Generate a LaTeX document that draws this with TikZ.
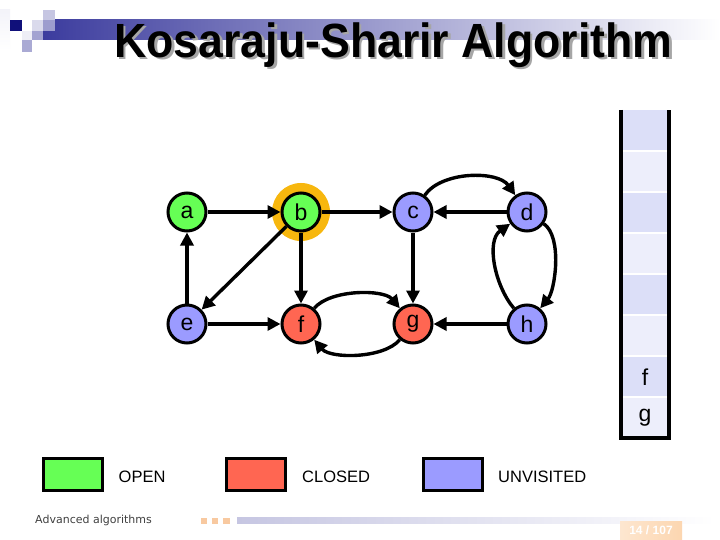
\documentclass[tikz,border=0pt]{standalone}
\usepackage{fontspec}
\setmainfont{Liberation Sans}
\newfontfamily\footfont{DejaVu Sans}
\usetikzlibrary{arrows.meta}
\definecolor{opengreen}{HTML}{66FF55}
\definecolor{closedred}{HTML}{FF6652}
\definecolor{unvblue}{HTML}{9B9BFF}
\definecolor{halo}{HTML}{F7B70E}
\definecolor{cellA}{HTML}{DCDFF8}
\definecolor{cellB}{HTML}{EDEEFB}
\definecolor{navy}{HTML}{10107A}
\definecolor{barblue}{HTML}{3C3C9E}
\definecolor{peach}{HTML}{F8C9A0}
\definecolor{footbar}{HTML}{C6C6E2}
\definecolor{pagebox}{HTML}{FCD6B0}
\begin{document}
\begin{tikzpicture}[x=1pt,y=1pt,
  vtx/.style={circle,draw=black,line width=3pt,minimum size=38pt,inner sep=0pt,font=\fontsize{23}{23}\selectfont},
  open/.style={vtx,fill=opengreen},
  closed/.style={vtx,fill=closedred},
  unv/.style={vtx,fill=unvblue},
  edge/.style={line width=3.4pt,-{Triangle[length=13pt,width=13pt]}},
  legbox/.style={draw=black,line width=3pt,minimum width=59pt,minimum height=32pt,inner sep=0pt},
  legtext/.style={font=\fontsize{16.5}{16.5}\selectfont,anchor=west,inner sep=0pt},
  stacktext/.style={font=\fontsize{23}{23}\selectfont,inner sep=0pt}
]
\useasboundingbox (0,0) rectangle (720,-540);
\fill[white] (0,0) rectangle (720,-540);

% top-left decoration
\shade[top color=white!80!footbar,bottom color=white] (0,-10) rectangle (10,-50);
\shade[left color=barblue,right color=white] (43,-20) rectangle (720,-40);
\fill[navy] (10,-20) rectangle (22,-31);
\fill[white!70!footbar] (22,-31) rectangle (32,-40);
\fill[white!35!footbar] (32,-20) rectangle (43,-31);
\fill[footbar] (43,-10) rectangle (55,-20);
\fill[footbar!70!barblue] (43,-20) rectangle (55,-31);
\fill[footbar!75!barblue] (32,-31) rectangle (43,-40);
\fill[footbar!80!barblue] (22,-40) rectangle (32,-52);

% title with shadow
\node[text=black!35,font=\bfseries\fontsize{48}{48}\selectfont,xscale=0.93] at (396,-47.5) {Kosaraju-Sharir Algorithm};
\node (title) [text=black,font=\bfseries\fontsize{48}{48}\selectfont,xscale=0.93] at (393.5,-45) {Kosaraju-Sharir Algorithm};

% halo
\fill[halo] (301,-212) circle (29);

% vertices
\node (a) [open]   at (187,-212) {a};
\node (b) [open]   at (301,-212) {b};
\node (c) [unv]    at (413,-212) {c};
\node (d) [unv]    at (527,-212) {d};
\node (e) [unv]    at (187,-324) {e};
\node (f) [closed] at (301,-324) {f};
\node (g) [closed] at (413,-324) {g};
\node (h) [unv]    at (527,-324) {h};

% edges
\draw[edge] (a) -- (b);
\draw[edge] (b) -- (c);
\draw[edge] (d) -- (c);
\draw[edge] (c) -- (g);
\draw[edge] (b) -- (f);
\draw[edge] (b) -- (e);
\draw[edge] (e) -- (a);
\draw[edge] (e) -- (f);
\draw[edge] (h) -- (g);
\draw[edge] (c) to[out=55,in=125,looseness=0.85] (d);
\draw[edge] (f) to[out=50,in=130,looseness=0.75] (g);
\draw[edge] (g) to[out=-130,in=-50,looseness=0.75] (f);
\draw[edge] (d) to[out=-35,in=50,looseness=0.7] (h);
\draw[edge] (h) to[out=130,in=-145,looseness=0.9] (d);

% stack
\fill[cellA] (621,-110) rectangle (669,-151);
\fill[cellB] (621,-151) rectangle (669,-192);
\fill[cellA] (621,-192) rectangle (669,-233);
\fill[cellB] (621,-233) rectangle (669,-274);
\fill[cellA] (621,-274) rectangle (669,-315);
\fill[cellB] (621,-315) rectangle (669,-356);
\fill[cellA] (621,-356) rectangle (669,-397);
\fill[cellB] (621,-397) rectangle (669,-438);
\foreach \yy in {151,192,233,274,315,356,397}
  \draw[white,line width=1.5pt] (621,-\yy) -- (669,-\yy);
\draw[black,line width=3.2pt] (621,-110) -- (621,-438) -- (669,-438) -- (669,-110);
\node (sf) [stacktext] at (645,-377) {f};
\node (sg) [stacktext] at (645,-418) {g};

% legend
\node (lo) [legbox,fill=opengreen] at (73,-474.5) {};
\node (lc) [legbox,fill=closedred] at (256,-474.5) {};
\node (lu) [legbox,fill=unvblue] at (452.5,-474.5) {};
\node (to) [legtext] at (118.5,-476.5) {OPEN};
\node (tc) [legtext] at (302,-476.5) {CLOSED};
\node (tu) [legtext] at (498,-476.5) {UNVISITED};

% footer
\node (foot) [font=\footfont\fontsize{11}{11}\selectfont,text=black!75,anchor=west,inner sep=0pt] at (35,-520.5) {Advanced algorithms};
\fill[peach] (201,-518) rectangle (207,-524);
\fill[peach] (212,-518) rectangle (218,-524);
\fill[peach] (223,-518) rectangle (230,-524);
\shade[left color=footbar,right color=white] (237,-517) rectangle (715,-523);
\shade[left color=pagebox!60,right color=pagebox] (620,-521) rectangle (682,-540);
\node (page) [font=\bfseries\fontsize{12}{12}\selectfont,text=white,inner sep=0pt] at (651,-530.5) {14 / 107};
\end{tikzpicture}
\end{document}
